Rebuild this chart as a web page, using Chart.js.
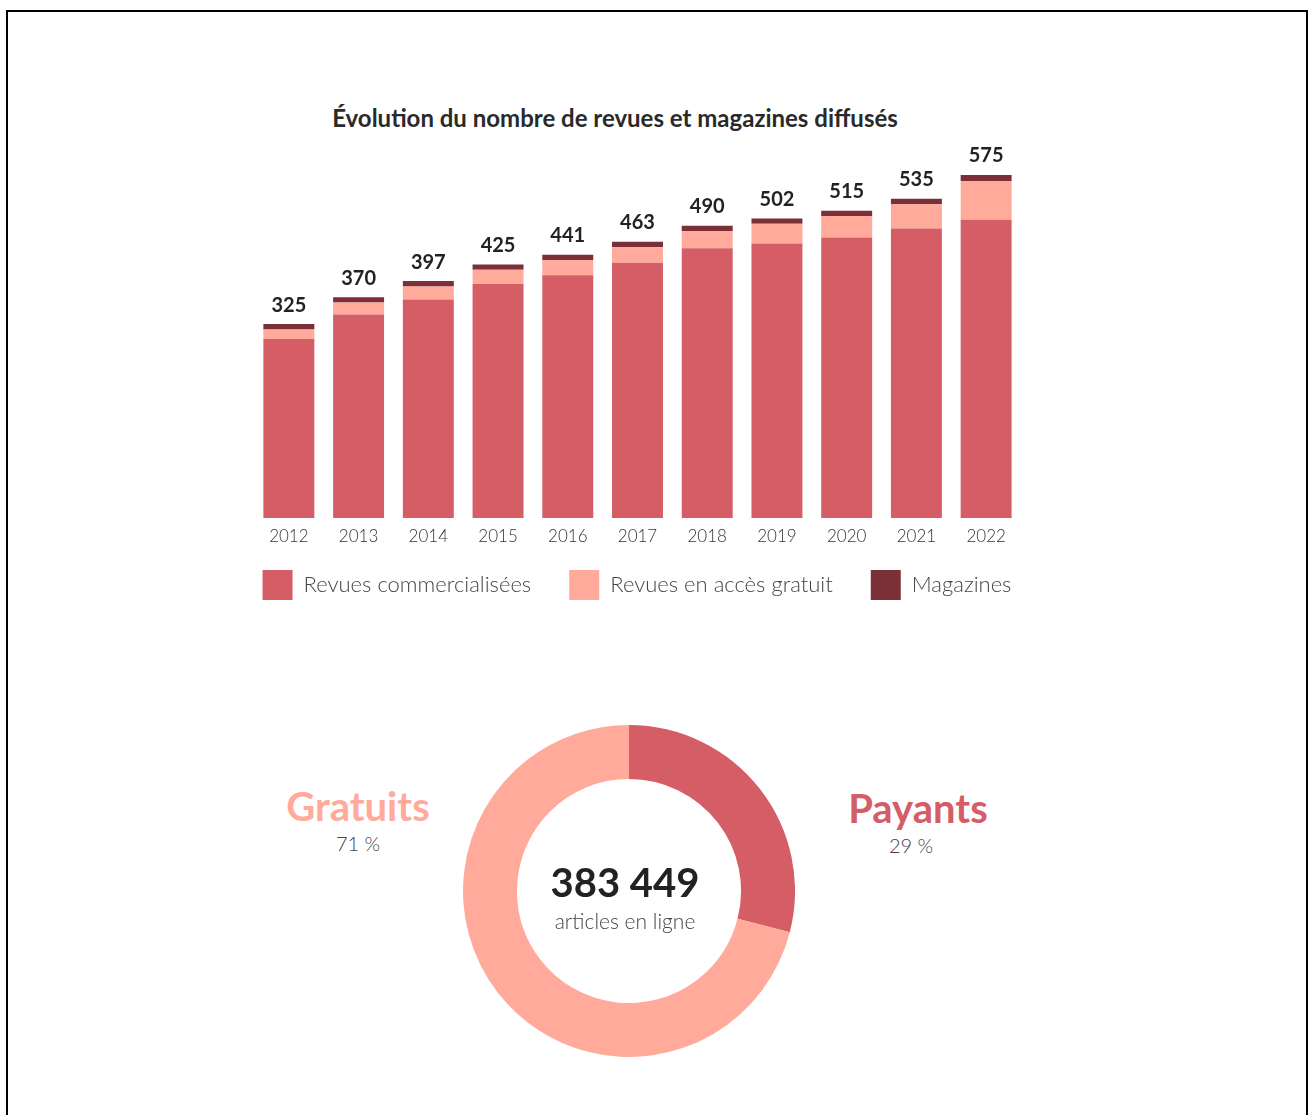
<!DOCTYPE html>
<html lang="fr">
<head>
<meta charset="utf-8">
<title>Revues et magazines diffusés</title>
<script src="https://cdn.jsdelivr.net/npm/chart.js@4.4.1/dist/chart.umd.min.js"></script>
<style>
  html, body { margin: 0; padding: 0; background: #fff; }
  body { width: 1314px; height: 1115px; position: relative; overflow: hidden; font-family: Lato, "Open Sans", sans-serif; }
  #cadre { position: absolute; left: 6px; top: 10px; width: 1298px; height: 1200px; border: 2px solid #000; border-bottom: none; }
  #titre { position: absolute; left: 615px; top: 117px; transform: translate(-50%, -50%); margin: 0; font-size: 24px; font-weight: 700; color: #2a2a2a; white-space: nowrap; }
  #zone-barres { position: absolute; left: 0; top: 0; width: 1314px; height: 640px; }
  #zone-anneau { position: absolute; left: 463px; top: 725px; width: 332px; height: 332px; }
  .etiquette { position: absolute; transform: translate(-50%, -50%); white-space: nowrap; text-align: center; }
  .grand { font-size: 40px; font-weight: 700; }
  .pct { font-size: 20px; font-weight: 300; color: #444; }
</style>
</head>
<body>
<div id="cadre"></div>
<h2 id="titre">Évolution du nombre de revues et magazines diffusés</h2>
<div id="zone-barres"><canvas id="chart-revues"></canvas></div>
<div id="zone-anneau"><canvas id="chart-articles"></canvas></div>

<div class="etiquette grand" style="left:358px; top:806px; color:#ffaa9b;">Gratuits</div>
<div class="etiquette pct" style="left:358px; top:843px;">71 %</div>
<div class="etiquette grand" style="left:918px; top:808px; color:#d45d66;">Payants</div>
<div class="etiquette pct" style="left:911px; top:845px;">29 %</div>
<div class="etiquette grand" style="left:625px; top:882px; color:#222;">383 449</div>
<div class="etiquette pct" style="left:625px; top:920px; font-size:21px;">articles en ligne</div>

<script>
const annees = ['2012', '2013', '2014', '2015', '2016', '2017', '2018', '2019', '2020', '2021', '2022'];
const revuesCommerciales = [300, 341, 366, 392, 407, 428, 452, 460, 470, 485, 500];
const revuesGratuites = [16, 20, 22, 24, 25, 26, 29, 33, 36, 41, 65];
const magazines = [9, 9, 9, 9, 9, 9, 9, 9, 9, 9, 10];
const totaux = [325, 370, 397, 425, 441, 463, 490, 502, 515, 535, 575];

const partsLabels = ['Payants', 'Gratuits'];
const partsValeurs = [29, 71];

const ROUGE = '#d45d66';
const ROSE = '#ffaa9b';
const BORDEAUX = '#7b2f37';

// écrit le total au-dessus de chaque barre empilée
const etiquettesTotaux = {
    id: 'etiquettesTotaux',
    afterDatasetsDraw(chart) {
        const ctx = chart.ctx;
        const meta = chart.getDatasetMeta(chart.data.datasets.length - 1);
        ctx.save();
        ctx.font = '700 20px Lato';
        ctx.fillStyle = '#222';
        ctx.textAlign = 'center';
        ctx.textBaseline = 'bottom';
        meta.data.forEach((barre, i) => {
            ctx.fillText(totaux[i], barre.x, barre.y - 9);
        });
        ctx.restore();
    }
};

// l'axe des années est gardé fin pour rapprocher la légende, on élargit juste sa zone de dessin
const zoneAnnees = {
    id: 'zoneAnnees',
    afterLayout(chart) {
        chart.scales.x.bottom += 24;
    }
};

const axeVide = (largeur) => ({
    display: true,
    grid: { display: false, drawTicks: false },
    border: { display: false },
    ticks: { display: false },
    afterFit(scale) { scale.width = largeur; }
});

new Chart(document.getElementById('chart-revues'), {
    type: 'bar',
    data: {
        labels: annees,
        datasets: [
            { label: 'Revues commercialisées', data: revuesCommerciales, backgroundColor: ROUGE },
            { label: 'Revues en accès gratuit', data: revuesGratuites, backgroundColor: ROSE },
            { label: 'Magazines', data: magazines, backgroundColor: BORDEAUX }
        ]
    },
    options: {
        responsive: true,
        maintainAspectRatio: false,
        animation: false,
        categoryPercentage: 0.84,
        barPercentage: 0.87,
        layout: { padding: { left: 0, right: 40, top: 160, bottom: 30 } },
        plugins: {
            tooltip: { enabled: false },
            legend: {
                position: 'bottom',
                labels: {
                    boxWidth: 30,
                    boxHeight: 30,
                    padding: 38,
                    color: '#444',
                    font: { family: 'Lato', size: 22, weight: '300' }
                }
            }
        },
        scales: {
            x: {
                stacked: true,
                grid: { display: false, drawTicks: false },
                border: { display: false },
                ticks: { color: '#333', padding: 8, font: { family: 'Lato', size: 17, weight: '300' } },
                afterFit(scale) { scale.height = 14; }
            },
            y: Object.assign(axeVide(254), { stacked: true, position: 'left', min: 0, max: 600 }),
            droite: Object.assign(axeVide(253), { type: 'linear', position: 'right' })
        }
    },
    plugins: [etiquettesTotaux, zoneAnnees]
});

new Chart(document.getElementById('chart-articles'), {
    type: 'doughnut',
    data: {
        labels: partsLabels,
        datasets: [{ data: partsValeurs, backgroundColor: [ROUGE, ROSE], borderWidth: 0 }]
    },
    options: {
        responsive: true,
        maintainAspectRatio: false,
        animation: false,
        cutout: '67.5%',
        plugins: { legend: { display: false }, tooltip: { enabled: false } }
    }
});
</script>
</body>
</html>
